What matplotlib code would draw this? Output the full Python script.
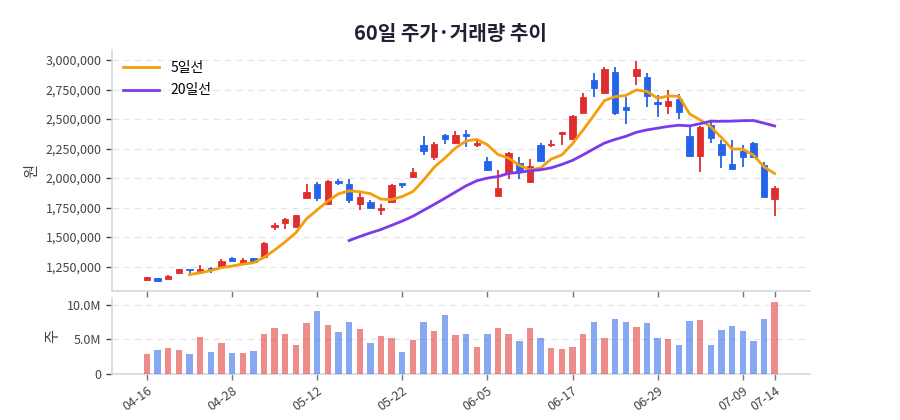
import numpy as np
import pandas as pd
import matplotlib
matplotlib.use('Agg')
import matplotlib.pyplot as plt
from matplotlib.ticker import FuncFormatter

plt.rcParams['font.family'] = ['Noto Sans CJK KR', 'DejaVu Sans']

# =========================
# Data (prices in won, volume in shares)
# =========================
dates = [
    '04-16', '04-17', '04-20', '04-21', '04-22', '04-23', '04-24', '04-27', '04-28', '04-29',
    '04-30', '05-04', '05-06', '05-07', '05-08', '05-11', '05-12', '05-13', '05-14', '05-15',
    '05-18', '05-19', '05-20', '05-21', '05-22', '05-26', '05-27', '05-28', '05-29', '06-01',
    '06-02', '06-04', '06-05', '06-08', '06-09', '06-10', '06-11', '06-12', '06-15', '06-16',
    '06-17', '06-18', '06-19', '06-22', '06-23', '06-24', '06-25', '06-26', '06-29', '06-30',
    '07-01', '07-02', '07-03', '07-06', '07-07', '07-08', '07-09', '07-10', '07-13', '07-14',
]
opens = [
    1139, 1153, 1142, 1193, 1230, 1216, 1239, 1250, 1318, 1278,
    1318, 1330, 1588, 1616, 1588, 1830, 1946, 1776, 1977, 1949,
    1776, 1793, 1733, 1795, 1955, 2006, 2284, 2182, 2361, 2295,
    2375, 2278, 2142, 1849, 2045, 2131, 1969, 2284, 2276, 2372,
    2332, 2554, 2830, 2724, 2900, 2602, 2864, 2858, 2645, 2608,
    2668, 2355, 2190, 2452, 2290, 2119, 2233, 2298, 2114, 1821,
]
closes = [
    1159, 1128, 1173, 1227, 1222, 1233, 1224, 1295, 1298, 1301,
    1290, 1452, 1605, 1650, 1685, 1881, 1827, 1977, 1960, 1812,
    1841, 1747, 1744, 1943, 1940, 2051, 2233, 2290, 2332, 2364,
    2352, 2298, 2065, 1912, 2216, 2048, 2105, 2145, 2290, 2389,
    2526, 2687, 2759, 2920, 2554, 2577, 2923, 2693, 2631, 2653,
    2560, 2185, 2429, 2341, 2196, 2077, 2182, 2176, 1841, 1912,
]
highs = [
    1162, 1155, 1178, 1230, 1232, 1267, 1242, 1312, 1330, 1318,
    1324, 1455, 1619, 1662, 1688, 1946, 1963, 1985, 1994, 1991,
    1872, 1815, 1781, 1946, 1958, 2082, 2355, 2301, 2375, 2395,
    2403, 2318, 2182, 2068, 2222, 2182, 2159, 2298, 2321, 2392,
    2530, 2724, 2886, 2943, 2943, 2687, 2991, 2886, 2702, 2744,
    2716, 2440, 2440, 2494, 2324, 2324, 2276, 2304, 2133, 1935,
]
lows = [
    1131, 1122, 1140, 1190, 1193, 1193, 1196, 1248, 1295, 1275,
    1281, 1328, 1560, 1565, 1585, 1827, 1804, 1773, 1937, 1787,
    1733, 1744, 1688, 1792, 1912, 2003, 2199, 2151, 2290, 2285,
    2261, 2261, 2060, 1846, 1994, 1991, 1963, 2142, 2261, 2281,
    2330, 2550, 2690, 2720, 2537, 2455, 2787, 2600, 2517, 2545,
    2503, 2180, 2048, 2298, 2082, 2074, 2091, 2170, 1838, 1679,
]
volumes_m = [
    2.82, 3.54, 3.69, 3.50, 2.82, 5.29, 3.11, 4.51, 2.96, 2.96,
    3.25, 5.73, 6.60, 5.83, 4.22, 7.43, 9.17, 7.14, 6.02, 7.48,
    6.46, 4.51, 5.53, 5.15, 3.11, 4.90, 7.48, 6.17, 8.50, 5.58,
    5.83, 3.93, 5.73, 6.60, 5.83, 4.85, 6.60, 5.24, 3.83, 3.64,
    3.93, 5.73, 7.48, 5.15, 7.96, 7.48, 6.75, 7.43, 5.15, 5.10,
    4.22, 7.62, 7.91, 4.22, 6.31, 6.99, 6.26, 4.81, 8.01, 10.39,
]

UP_COLOR = '#e02d2d'
DOWN_COLOR = '#2563eb'
MA_COLORS = {5: '#f59e0b', 20: '#7c3aed'}
GRID_COLOR = '#e3e5ea'
SPINE_COLOR = '#d4d8df'
TEXT_COLOR = '#444444'


def build_frame():
    df = pd.DataFrame({
        'date': dates,
        'open': np.array(opens) * 1000,
        'close': np.array(closes) * 1000,
        'high': np.array(highs) * 1000,
        'low': np.array(lows) * 1000,
        'volume': np.array(volumes_m) * 1e6,
    })
    df['ma5'] = df['close'].rolling(5).mean()
    df['ma20'] = df['close'].rolling(20).mean()
    return df


def style_axis(ax):
    for side in ['top', 'right']:
        ax.spines[side].set_visible(False)
    for side in ['left', 'bottom']:
        ax.spines[side].set_color(SPINE_COLOR)
        ax.spines[side].set_linewidth(1.2)
    ax.grid(axis='y', linestyle=(0, (5, 4)), color=GRID_COLOR, linewidth=0.9)
    ax.set_axisbelow(True)
    ax.tick_params(colors=TEXT_COLOR, labelsize=9, length=4, width=1)
    ax.tick_params(axis='x', color='#777777')


def plot_chart(df):
    fig = plt.figure(figsize=(9, 4.2), dpi=100)
    ax_p = fig.add_axes([0.1245, 0.307, 0.775, 0.574])
    ax_v = fig.add_axes([0.1245, 0.110, 0.775, 0.180], sharex=ax_p)

    x = np.arange(len(df))
    up = df['close'] >= df['open']
    colors = np.where(up, UP_COLOR, DOWN_COLOR)

    # candles
    ax_p.vlines(x, df['low'], df['high'], colors=colors, linewidth=1.3, zorder=2)
    body_bottom = np.minimum(df['open'], df['close'])
    body_height = np.maximum(np.abs(df['close'] - df['open']), 4000)
    ax_p.bar(x, body_height, bottom=body_bottom, width=0.6, color=colors,
             edgecolor=colors, linewidth=0.6, zorder=3)

    ax_p.plot(x, df['ma5'], color=MA_COLORS[5], linewidth=2, label='5일선', zorder=4)
    ax_p.plot(x, df['ma20'], color=MA_COLORS[20], linewidth=2, label='20일선', zorder=4)

    ax_p.set_ylim(1_042_000, 3_085_000)
    ax_p.set_yticks(np.arange(1_250_000, 3_000_001, 250_000))
    ax_p.yaxis.set_major_formatter(FuncFormatter(lambda v, _: f'{v:,.0f}'))
    ax_p.set_ylabel('원', color=TEXT_COLOR, fontsize=11)
    style_axis(ax_p)
    ax_p.tick_params(axis='x', labelbottom=False)
    ax_p.legend(loc='upper left', frameon=False, fontsize=10, handlelength=2.6,
                borderaxespad=0.4, labelspacing=0.6)

    # volume
    ax_v.bar(x, df['volume'], width=0.6, color=colors, alpha=0.55, zorder=3)
    ax_v.set_ylim(0, df['volume'].max() * 1.06)
    ax_v.set_yticks([0, 5e6, 10e6])
    ax_v.yaxis.set_major_formatter(FuncFormatter(lambda v, _: '0' if v == 0 else f'{v / 1e6:.1f}M'))
    ax_v.set_ylabel('주', color=TEXT_COLOR, fontsize=11)
    style_axis(ax_v)

    tick_idx = list(range(0, len(df), 8)) + [len(df) - 1]
    ax_v.set_xticks(tick_idx)
    ax_v.set_xticklabels([df['date'][i] for i in tick_idx], rotation=35, ha='right',
                         rotation_mode='anchor')

    fig.align_ylabels([ax_p, ax_v])
    fig.suptitle('60일 주가·거래량 추이', x=0.5, y=0.945, fontsize=14.5,
                 fontweight='bold', color='#1f2233')
    fig.savefig('out.png', dpi=100)


if __name__ == '__main__':
    plot_chart(build_frame())
